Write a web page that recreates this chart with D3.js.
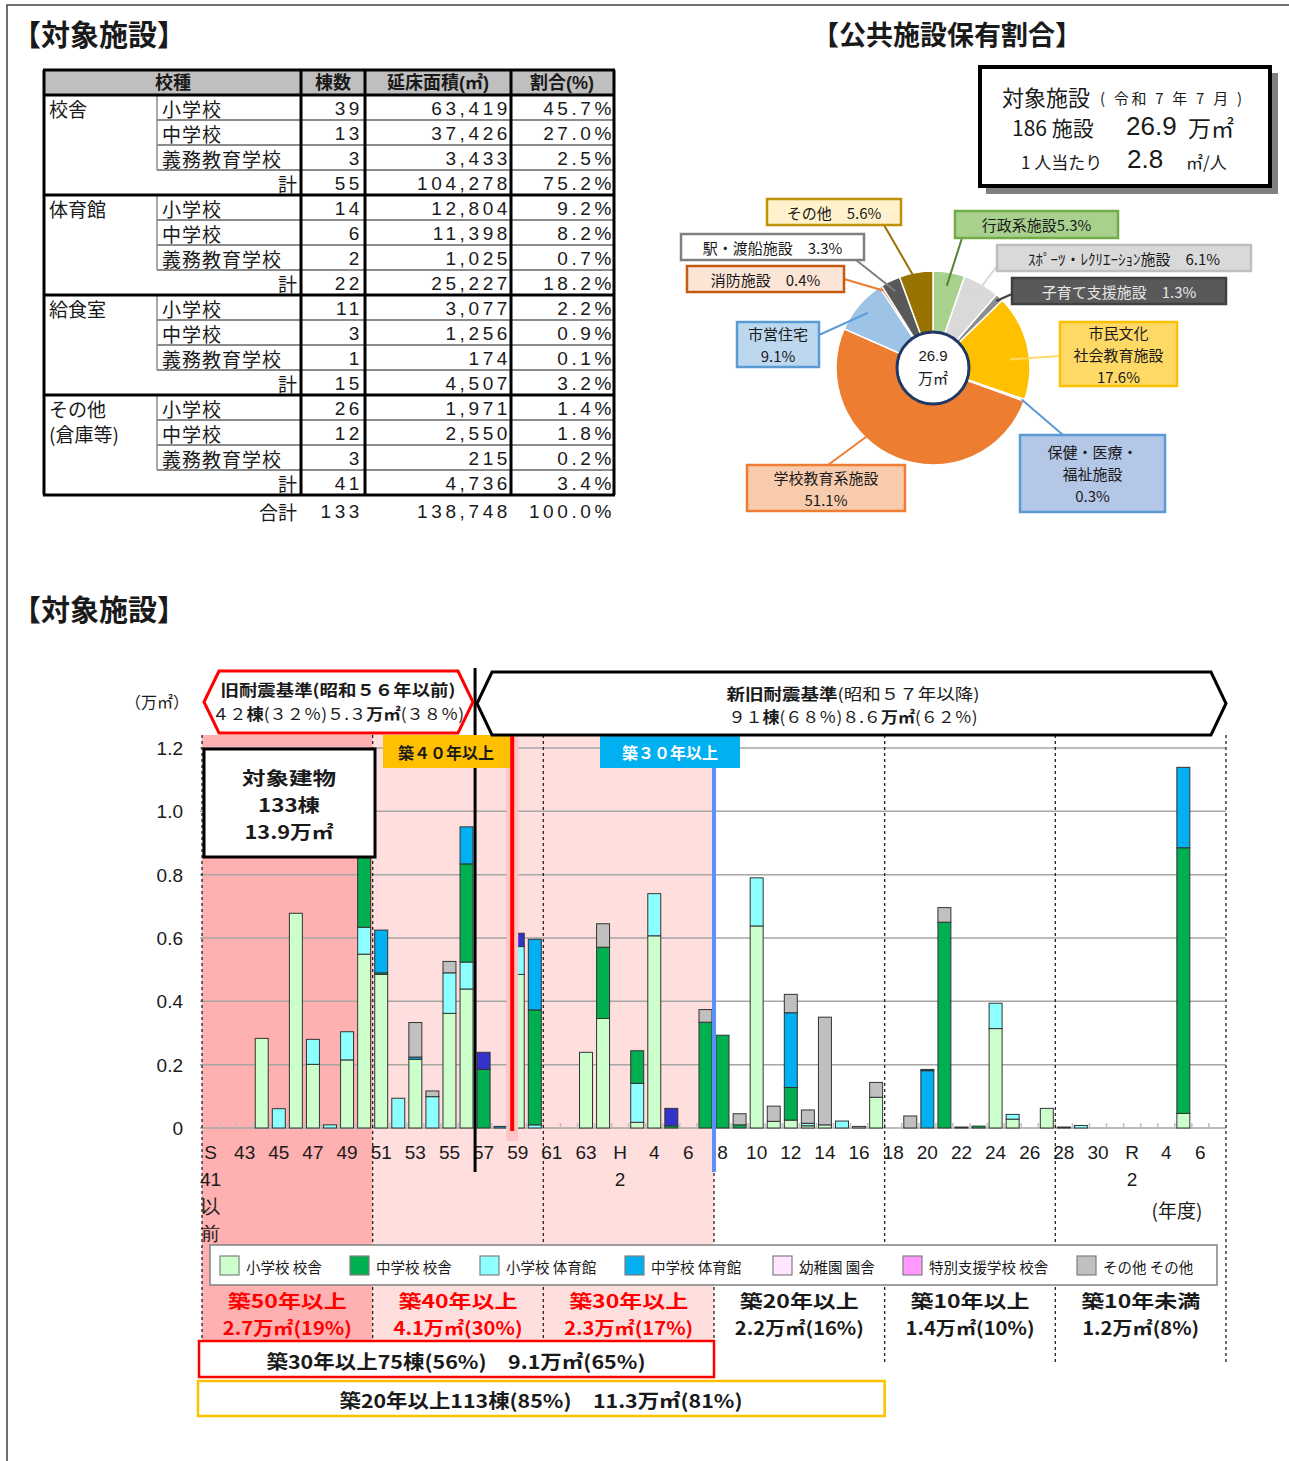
<!DOCTYPE html>
<html>
<head>
<meta charset="utf-8">
<script src="https://cdn.jsdelivr.net/npm/d3@7"></script>
<style>
  body { margin: 0; background: #fff; }
  svg { display: block; font-family: "Liberation Sans", "Noto Sans CJK JP", sans-serif; }
  text { dominant-baseline: central; fill: #1a1a1a; }
</style>
</head>
<body>
<svg id="page" width="1289" height="1461"></svg>
<script>
// ---------- table data ----------
const tableGroups = [['校舎'], ['体育館'], ['給食室'], ['その他', '(倉庫等)']];
const tableTypes = ['小学校', '中学校', '義務教育学校', '計'];
const tableCounts = [[39, 13, 3, 55], [14, 6, 2, 22], [11, 3, 1, 15], [26, 12, 3, 41]];
const tableAreas = [[63419, 37426, 3433, 104278], [12804, 11398, 1025, 25227], [3077, 1256, 174, 4507], [1971, 2550, 215, 4736]];
const tableShares = [[45.7, 27.0, 2.5, 75.2], [9.2, 8.2, 0.7, 18.2], [2.2, 0.9, 0.1, 3.2], [1.4, 1.8, 0.2, 3.4]];
const tableTotal = [133, 138748, 100.0];

// ---------- pie data ----------
const pieNames = ['行政系施設', 'ｽﾎﾟｰﾂ・ﾚｸﾘｴｰｼｮﾝ施設', '子育て支援施設', '市民文化\n社会教育施設', '保健・医療・\n福祉施設',
  '学校教育系施設', '市営住宅', '消防施設', '駅・渡船施設', 'その他'];
const pieShares = [5.3, 6.1, 1.3, 17.6, 0.3, 51.1, 9.1, 0.4, 3.3, 5.6];
const pieColors = ['#A9D18E', '#D9D9D9', '#8C8C8C', '#FFC000', '#9DC3E6', '#ED7D31', '#9DC3E6', '#C55A11', '#595959', '#997300'];

// ---------- bar chart data (万㎡) ----------
const years = [
  'S41以前', 'S42', 'S43', 'S44', 'S45', 'S46', 'S47', 'S48', 'S49', 'S50',
  'S51', 'S52', 'S53', 'S54', 'S55', 'S56', 'S57', 'S58', 'S59', 'S60',
  'S61', 'S62', 'S63', 'H1', 'H2', 'H3', 'H4', 'H5', 'H6', 'H7',
  'H8', 'H9', 'H10', 'H11', 'H12', 'H13', 'H14', 'H15', 'H16', 'H17',
  'H18', 'H19', 'H20', 'H21', 'H22', 'H23', 'H24', 'H25', 'H26', 'H27',
  'H28', 'H29', 'H30', 'R1', 'R2', 'R3', 'R4', 'R5', 'R6', 'R7'];
const xTickLabels = ['S\n41\n以\n前', '43', '45', '47', '49', '51', '53', '55', '57', '59', '61', '63', 'H\n2', '4', '6',
  '8', '10', '12', '14', '16', '18', '20', '22', '24', '26', '28', '30', 'R\n2', '4', '6'];
const yTicks = [0, 0.2, 0.4, 0.6, 0.8, 1.0, 1.2];

const elemBldg = [
  0, 0, 0, 0.283, 0, 0.678, 0.201, 0, 0.215, 0.549,
  0.485, 0, 0.217, 0, 0.362, 0.439, 0, 0, 0.485, 0,
  0, 0, 0.239, 0.346, 0, 0.018, 0.607, 0, 0, 0,
  0, 0, 0.638, 0.021, 0.025, 0.007, 0.010, 0, 0, 0.097,
  0, 0, 0, 0, 0, 0, 0.314, 0.028, 0, 0.062,
  0, 0, 0, 0, 0, 0, 0, 0.046, 0, 0];
const elemGym = [
  0, 0, 0, 0, 0.061, 0, 0.079, 0.010, 0.089, 0.085,
  0, 0.094, 0, 0.099, 0.128, 0.085, 0, 0, 0.088, 0.010,
  0, 0, 0, 0, 0, 0.123, 0.133, 0, 0, 0,
  0, 0, 0.152, 0, 0, 0.008, 0, 0.022, 0, 0,
  0, 0, 0, 0, 0, 0, 0.080, 0.015, 0, 0,
  0, 0.008, 0, 0, 0, 0, 0, 0, 0, 0];
const juniorBldg = [
  0, 0, 0, 0, 0, 0, 0, 0, 0, 0.446,
  0.005, 0, 0, 0, 0, 0.310, 0.185, 0, 0, 0.363,
  0, 0, 0, 0.225, 0, 0.103, 0, 0.007, 0, 0.334,
  0.293, 0.010, 0, 0, 0.103, 0, 0, 0, 0, 0,
  0, 0, 0, 0.650, 0.003, 0.006, 0, 0, 0, 0,
  0, 0, 0, 0, 0, 0, 0, 0.839, 0, 0];
const juniorGym = [
  0, 0, 0, 0, 0, 0, 0, 0, 0, 0,
  0.135, 0, 0.007, 0, 0, 0.117, 0, 0.005, 0, 0.223,
  0, 0, 0, 0, 0, 0, 0, 0, 0, 0,
  0, 0, 0, 0, 0.236, 0, 0, 0, 0, 0,
  0, 0, 0.181, 0, 0, 0, 0, 0, 0, 0,
  0, 0, 0, 0, 0, 0, 0, 0.254, 0, 0];
const kinderBldg = [
  0, 0, 0, 0, 0, 0, 0, 0, 0, 0,
  0, 0, 0, 0, 0, 0, 0, 0, 0, 0,
  0, 0, 0, 0, 0, 0, 0, 0, 0, 0,
  0, 0, 0, 0, 0, 0, 0, 0, 0, 0,
  0, 0, 0, 0, 0, 0, 0, 0, 0, 0,
  0, 0, 0, 0, 0, 0, 0, 0, 0, 0];
const specialBldg = [
  0, 0, 0, 0, 0, 0, 0, 0, 0, 0,
  0, 0, 0, 0, 0, 0, 0, 0, 0, 0,
  0, 0, 0, 0, 0, 0, 0, 0, 0, 0,
  0, 0, 0, 0, 0, 0, 0, 0, 0, 0,
  0, 0, 0, 0, 0, 0, 0, 0, 0, 0,
  0, 0, 0, 0, 0, 0, 0, 0, 0, 0];
const otherBldg = [
  0, 0, 0, 0, 0, 0, 0, 0, 0, 0,
  0, 0, 0.109, 0.018, 0.036, 0, 0, 0, 0, 0,
  0, 0, 0, 0.074, 0, 0, 0, 0, 0, 0.040,
  0, 0.035, 0, 0.048, 0.058, 0.042, 0.340, 0, 0.005, 0.047,
  0, 0.038, 0, 0.046, 0, 0, 0, 0, 0, 0,
  0.003, 0, 0, 0, 0, 0, 0, 0, 0, 0];
const compulsoryBldg = [
  0, 0, 0, 0, 0, 0, 0, 0, 0, 0,
  0, 0, 0, 0, 0, 0, 0.054, 0, 0.042, 0,
  0, 0, 0, 0, 0, 0, 0, 0.055, 0, 0,
  0, 0, 0, 0, 0, 0, 0, 0, 0, 0,
  0, 0, 0.004, 0, 0, 0, 0, 0, 0, 0,
  0, 0, 0, 0, 0, 0, 0, 0, 0, 0];

const seriesKeys = ['小学校 校舎', '小学校 体育館', '中学校 校舎', '中学校 体育館', '幼稚園 園舎', '特別支援学校 校舎', 'その他 その他', '義務教育学校'];
const seriesValues = [elemBldg, elemGym, juniorBldg, juniorGym, kinderBldg, specialBldg, otherBldg, compulsoryBldg];
const seriesColors = ['#CCFFCC', '#8CFFFF', '#00B050', '#00B0F0', '#FFE5FF', '#FF99FF', '#C0C0C0', '#3333CC'];
const legendKeys = ['小学校 校舎', '中学校 校舎', '小学校 体育館', '中学校 体育館', '幼稚園 園舎', '特別支援学校 校舎', 'その他 その他'];

const ageBandStart = ['S41以前', 'S51', 'S61', 'H8', 'H18', 'H28'];
const ageBandNames = ['築50年以上', '築40年以上', '築30年以上', '築20年以上', '築10年以上', '築10年未満'];
const ageBandArea = [2.7, 4.1, 2.3, 2.2, 1.4, 1.2];
const ageBandPct = [19, 30, 17, 16, 10, 8];

const svg = d3.select('#page');
const CJK = '"Noto Sans CJK JP", sans-serif';

// page frame
svg.append('path').attr('d', 'M7,1461V5H1289').attr('fill', 'none').attr('stroke', '#404040').attr('stroke-width', 1.5);

// titles
svg.append('text').attr('x', 12).attr('y', 33).style('font-family', CJK).style('font-weight', 700).style('font-size', '29px').text('【対象施設】');
svg.append('text').attr('x', 12).attr('y', 608).style('font-family', CJK).style('font-weight', 700).style('font-size', '29px').text('【対象施設】');
svg.append('text').attr('x', 812).attr('y', 33).style('font-family', CJK).style('font-weight', 700).style('font-size', '27px').text('【公共施設保有割合】');

// ================= table =================
const tbl = svg.append('g');
const tTop = 70, rowH = 25;
tbl.append('rect').attr('x', 44).attr('y', tTop).attr('width', 570).attr('height', rowH).attr('fill', '#BFBFBF');
[['校種', 173], ['棟数', 333], ['延床面積(㎡)', 438], ['割合(%)', 562]].forEach(h => {
  tbl.append('text').attr('x', h[1]).attr('y', tTop + 13).attr('text-anchor', 'middle')
    .style('font-weight', 700).style('font-size', '18px').text(h[0]);
});
const fmtArea = d3.format(',');
const fmtShare = d => d3.format('.1f')(d) + '%';
const numStyle = sel => sel.style('font-size', '19px').style('letter-spacing', '3.6px').attr('text-anchor', 'end');

tableGroups.forEach((grp, g) => {
  const gTop = tTop + rowH + g * 4 * rowH;
  grp.forEach((s, k) => tbl.append('text').attr('x', 49).attr('y', gTop + 13 + k * rowH)
    .style('font-family', CJK).style('font-size', '19px').text(s));
  tableTypes.forEach((t, r) => {
    const yc = gTop + r * rowH + 13;
    if (r < 3) {
      tbl.append('text').attr('x', 162).attr('y', yc).style('font-family', CJK).style('font-size', '19px')
        .style('letter-spacing', '1px').text(t);
      tbl.append('line').attr('x1', 157).attr('x2', 614).attr('y1', gTop + (r + 1) * rowH).attr('y2', gTop + (r + 1) * rowH)
        .attr('stroke', '#8C8C8C').attr('stroke-width', 2);
    } else {
      tbl.append('text').attr('x', 297).attr('y', yc).attr('text-anchor', 'end').style('font-family', CJK).style('font-size', '19px').text(t);
    }
    tbl.append('text').attr('x', 363).attr('y', yc).call(numStyle).text(tableCounts[g][r]);
    tbl.append('text').attr('x', 511).attr('y', yc).call(numStyle).text(fmtArea(tableAreas[g][r]));
    tbl.append('text').attr('x', 615).attr('y', yc).call(numStyle).text(fmtShare(tableShares[g][r]));
  });
  tbl.append('line').attr('x1', 157).attr('x2', 157).attr('y1', gTop).attr('y2', gTop + 3 * rowH)
    .attr('stroke', '#8C8C8C').attr('stroke-width', 1.5);
});
[tTop, tTop + rowH, 195, 295, 395, 495].forEach(y => tbl.append('line').attr('x1', 43).attr('x2', 615)
  .attr('y1', y).attr('y2', y).attr('stroke', '#000').attr('stroke-width', 3));
[44, 301, 365, 511, 614].forEach(xv => tbl.append('line').attr('x1', xv).attr('x2', xv)
  .attr('y1', tTop).attr('y2', 495).attr('stroke', '#000').attr('stroke-width', 3));
const totY = 511;
tbl.append('text').attr('x', 297).attr('y', totY).attr('text-anchor', 'end').style('font-family', CJK).style('font-size', '19px').text('合計');
tbl.append('text').attr('x', 363).attr('y', totY).call(numStyle).text(tableTotal[0]);
tbl.append('text').attr('x', 511).attr('y', totY).call(numStyle).text(fmtArea(tableTotal[1]));
tbl.append('text').attr('x', 615).attr('y', totY).call(numStyle).text(fmtShare(tableTotal[2]));

// ================= info box =================
svg.append('rect').attr('x', 986).attr('y', 73).attr('width', 292).attr('height', 121).attr('fill', '#7F7F7F');
svg.append('rect').attr('x', 980).attr('y', 67).attr('width', 290).attr('height', 119).attr('fill', '#fff').attr('stroke', '#000').attr('stroke-width', 4);
const info = svg.append('g').style('font-family', CJK);
info.append('text').attr('x', 1002).attr('y', 96).style('font-size', '22px').text('対象施設');
info.append('text').attr('x', 1100).attr('y', 97).style('font-size', '15px').attr('textLength', 142).text('( 令和 7 年 7 月 )');
info.append('text').attr('x', 1012).attr('y', 127).style('font-size', '21px').text('186 施設');
info.append('text').attr('x', 1126).attr('y', 126).style('font-size', '26px').style('font-family', '"Liberation Sans", sans-serif').text('26.9');
info.append('text').attr('x', 1188).attr('y', 127).style('font-size', '23px').text('万㎡');
info.append('text').attr('x', 1021).attr('y', 161).style('font-size', '17px').text('1 人当たり');
info.append('text').attr('x', 1127).attr('y', 159).style('font-size', '26px').style('font-family', '"Liberation Sans", sans-serif').text('2.8');
info.append('text').attr('x', 1186).attr('y', 161).style('font-size', '17px').text('㎡/人');

// ================= pie =================
const pieCx = 933, pieCy = 368, pieR = 97;
const pieArcs = d3.pie().sort(null).value(d => d)(pieShares);
const arc = d3.arc().innerRadius(0).outerRadius(pieR);
const gPie = svg.append('g').attr('transform', `translate(${pieCx},${pieCy})`);
gPie.selectAll('path').data(pieArcs).join('path').attr('d', arc)
  .attr('fill', (d, i) => pieColors[i]).attr('stroke', '#fff').attr('stroke-width', 1.5);

const pieBoxes = [
  { x: 955, y: 211, w: 163, h: 27, fill: '#A9D18E', stroke: '#70AD47', ink: '#1a1a1a', from: [962, 238], t: 0.5, k: 0.86, line: '#548235', mode: 'tight' },
  { x: 997, y: 245, w: 254, h: 26, fill: '#D9D9D9', stroke: '#BFBFBF', ink: '#1a1a1a', from: [1000, 262], t: 0.5, k: 0.87, line: '#D9D9D9', mode: 'inline' },
  { x: 1012, y: 278, w: 214, h: 26, fill: '#595959', stroke: '#404040', ink: '#E6E6E6', from: [1012, 294], t: 0.5, k: 0.95, line: '#404040', mode: 'inline' },
  { x: 1060, y: 322, w: 117, h: 64, fill: '#FFD966', stroke: '#FFC000', ink: '#1a1a1a', from: [1060, 356], t: 0.6, k: 0.8, line: '#FFD966', mode: 'stack' },
  { x: 1020, y: 435, w: 145, h: 77, fill: '#B4C7E7', stroke: '#5B9BD5', ink: '#1a1a1a', from: [1063, 435], t: 0.5, k: 0.97, line: '#5B9BD5', mode: 'stack' },
  { x: 747, y: 465, w: 158, h: 46, fill: '#F8CBAD', stroke: '#ED7D31', ink: '#1a1a1a', from: [828, 465], t: 0.62, k: 0.97, line: '#ED7D31', mode: 'stack' },
  { x: 737, y: 322, w: 82, h: 45, fill: '#BDD7EE', stroke: '#5B9BD5', ink: '#1a1a1a', from: [819, 335], t: 0.5, k: 0.88, line: '#5B9BD5', mode: 'stack' },
  { x: 687, y: 266, w: 157, h: 26, fill: '#FBE5D6', stroke: '#C55A11', ink: '#1a1a1a', from: [844, 279], t: 0.5, k: 0.95, line: '#ED7D31', mode: 'inline' },
  { x: 681, y: 234, w: 183, h: 26, fill: '#fff', stroke: '#7F7F7F', ink: '#1a1a1a', from: [856, 260], t: 0.5, k: 0.88, line: '#7F7F7F', mode: 'inline' },
  { x: 767, y: 199, w: 134, h: 26, fill: '#FFF2CC', stroke: '#BF9000', ink: '#1a1a1a', from: [884, 225], t: 0.5, k: 0.88, line: '#997300', mode: 'inline' }
];
// leader lines
pieBoxes.forEach((b, i) => {
  const a = pieArcs[i];
  const ang = a.startAngle + b.t * (a.endAngle - a.startAngle);
  const ex = pieCx + Math.sin(ang) * pieR * b.k, ey = pieCy - Math.cos(ang) * pieR * b.k;
  svg.append('line').attr('x1', b.from[0]).attr('y1', b.from[1]).attr('x2', ex).attr('y2', ey)
    .attr('stroke', b.line).attr('stroke-width', 2);
});
// center hole
svg.append('circle').attr('cx', pieCx).attr('cy', pieCy).attr('r', 36).attr('fill', '#fff').attr('stroke', '#1F3864').attr('stroke-width', 3);
svg.append('text').attr('x', pieCx).attr('y', pieCy - 13).attr('text-anchor', 'middle').style('font-size', '15px').text('26.9');
svg.append('text').attr('x', pieCx).attr('y', pieCy + 9).attr('text-anchor', 'middle').style('font-family', CJK).style('font-size', '15px').text('万㎡');
// label boxes
pieBoxes.forEach((b, i) => {
  svg.append('rect').attr('x', b.x).attr('y', b.y).attr('width', b.w).attr('height', b.h)
    .attr('fill', b.fill).attr('stroke', b.stroke).attr('stroke-width', 2.5);
  const pct = d3.format('.1f')(pieShares[i]) + '%';
  let lines;
  if (b.mode === 'tight') lines = [pieNames[i] + pct];
  else if (b.mode === 'inline') lines = [pieNames[i] + '　' + pct];
  else lines = pieNames[i].split('\n').concat([pct]);
  const lh = 22, y0 = b.y + b.h / 2 - (lines.length - 1) * lh / 2;
  lines.forEach((s, k) => svg.append('text').attr('x', b.x + b.w / 2).attr('y', y0 + k * lh)
    .attr('text-anchor', 'middle').style('font-family', CJK).style('font-size', '15px').style('fill', b.ink).text(s));
});

// ================= bar chart =================
const plotTop = 735, zoneBottom = 1340;
const x = d3.scaleBand().domain(years).range([202, 1226]).paddingInner(0.24).paddingOuter(0.12);
const y = d3.scaleLinear().domain([0, 1.2]).range([1128, 748]);
const edge = yr => x(yr) - x.step() * x.paddingInner() / 2;
const rightEdge = 1226;

// shaded age zones
const chart = svg.append('g');
chart.append('rect').attr('x', edge('S41以前')).attr('y', plotTop).attr('width', edge('S51') - edge('S41以前'))
  .attr('height', zoneBottom - plotTop).attr('fill', '#FFB0B0');
chart.append('rect').attr('x', edge('S51')).attr('y', plotTop).attr('width', edge('H8') - edge('S51'))
  .attr('height', zoneBottom - plotTop).attr('fill', '#FFDEDE');

// gridlines
chart.selectAll('.grid').data(yTicks).join('line').attr('class', 'grid')
  .attr('x1', 200).attr('x2', rightEdge).attr('y1', d => y(d)).attr('y2', d => y(d))
  .attr('stroke', '#A6A6A6').attr('stroke-width', 1.5);
// small boundary ticks on baseline
chart.selectAll('.btick').data(years.slice(1)).join('line').attr('class', 'btick')
  .attr('x1', d => edge(d)).attr('x2', d => edge(d)).attr('y1', y(0)).attr('y2', y(0) - 5)
  .attr('stroke', '#BFBFBF').attr('stroke-width', 1.5);

// dashed zone dividers
const dividers = ageBandStart.map(edge).concat([rightEdge]);
chart.selectAll('.div').data(dividers).join('line').attr('class', 'div')
  .attr('x1', d => d).attr('x2', d => d).attr('y1', plotTop).attr('y2', 1365)
  .attr('stroke', '#222').attr('stroke-width', 1.3).attr('stroke-dasharray', '3,3');

// stacked bars
const rows = years.map((yr, i) => {
  const r = { year: yr };
  seriesKeys.forEach((k, j) => { r[k] = seriesValues[j][i]; });
  return r;
});
const stacked = d3.stack().keys(seriesKeys)(rows);
const colorOf = d3.scaleOrdinal().domain(seriesKeys).range(seriesColors);
chart.selectAll('.layer').data(stacked).join('g').attr('class', 'layer')
  .attr('fill', d => colorOf(d.key))
  .selectAll('rect').data(d => d.filter(p => p[1] - p[0] > 0)).join('rect')
  .attr('x', d => x(d.data.year)).attr('width', x.bandwidth())
  .attr('y', d => y(d[1])).attr('height', d => Math.max(1, y(d[0]) - y(d[1])))
  .attr('stroke', '#333').attr('stroke-width', 1);

// axes
const yAxis = chart.append('g').attr('transform', 'translate(202,0)')
  .call(d3.axisLeft(y).tickValues(yTicks).tickSize(0).tickPadding(19).tickFormat(d => d === 0 ? '0' : d3.format('.1f')(d)));
yAxis.select('.domain').remove();
yAxis.selectAll('text').attr('dy', null).style('font-size', '19px').style('font-family', '"Liberation Sans", sans-serif').attr('fill', '#1a1a1a');

const tickYears = years.filter((d, i) => i % 2 === 0);
const xAxis = chart.append('g').attr('transform', `translate(0,${y(0)})`)
  .call(d3.axisBottom(x).tickValues(tickYears).tickSize(0).tickPadding(0).tickFormat(d => ''));
xAxis.select('.domain').remove();
xAxis.selectAll('.tick text').each(function (d) {
  const lbl = xTickLabels[tickYears.indexOf(d)];
  const t = d3.select(this).attr('dy', null).attr('y', 24).attr('fill', '#1a1a1a').style('font-size', '19px');
  lbl.split('\n').forEach((s, k) => t.append('tspan').attr('x', 0).attr('y', 24 + k * 27).text(s));
});

// era / age markers
chart.append('line').attr('x1', edge('S59') + 3).attr('x2', edge('S59') + 3).attr('y1', plotTop).attr('y2', 1141)
  .attr('stroke', '#FFC4C4').attr('stroke-width', 12);
chart.append('line').attr('x1', edge('S59') + 3).attr('x2', edge('S59') + 3).attr('y1', plotTop).attr('y2', 1131)
  .attr('stroke', '#FF0000').attr('stroke-width', 4);
chart.append('line').attr('x1', edge('H8')).attr('x2', edge('H8')).attr('y1', plotTop).attr('y2', 1172)
  .attr('stroke', '#5B8FF9').attr('stroke-width', 4);
chart.append('line').attr('x1', edge('S57')).attr('x2', edge('S57')).attr('y1', 668).attr('y2', 1172)
  .attr('stroke', '#000').attr('stroke-width', 3);

chart.append('rect').attr('x', 383).attr('y', plotTop).attr('width', 127).attr('height', 33).attr('fill', '#FFC000');
chart.append('text').attr('x', 446).attr('y', 752).attr('text-anchor', 'middle').style('font-family', CJK)
  .style('font-weight', 700).style('font-size', '16px').text('築４０年以上');
chart.append('rect').attr('x', 600).attr('y', plotTop).attr('width', 140).attr('height', 33).attr('fill', '#00B0F0');
chart.append('text').attr('x', 670).attr('y', 752).attr('text-anchor', 'middle').style('font-family', CJK)
  .style('font-weight', 700).style('font-size', '16px').style('fill', '#fff').text('築３０年以上');

// total buildings box
chart.append('rect').attr('x', 204).attr('y', 749).attr('width', 171).attr('height', 108).attr('fill', '#fff')
  .attr('stroke', '#000').attr('stroke-width', 3);
[['対象建物', 777, 94], ['133棟', 804, 62], ['13.9万㎡', 831, 89]].forEach(s => chart.append('text').attr('x', 289).attr('y', s[1])
  .attr('text-anchor', 'middle').style('font-family', CJK).style('font-weight', 700).style('font-size', '18px')
  .attr('textLength', s[2]).attr('lengthAdjust', 'spacingAndGlyphs').text(s[0]));

// header banners
svg.append('text').attr('x', 157).attr('y', 701).attr('text-anchor', 'middle').style('font-family', CJK).style('font-size', '16px').text('（万㎡）');
const hexPath = (x0, x1, y0, y1, c) => `M${x0},${(y0 + y1) / 2}L${x0 + c},${y0}H${x1 - c}L${x1},${(y0 + y1) / 2}L${x1 - c},${y1}H${x0 + c}Z`;
svg.append('path').attr('d', hexPath(204, 473, 671, 733, 15)).attr('fill', '#fff').attr('stroke', '#FF0000').attr('stroke-width', 3);
svg.append('path').attr('d', hexPath(477, 1226, 672, 735, 15)).attr('fill', '#fff').attr('stroke', '#000').attr('stroke-width', 3);
const banner = (cx, cy, w, parts) => {
  const t = svg.append('text').attr('x', cx).attr('y', cy).attr('text-anchor', 'middle').style('font-family', CJK)
    .style('font-size', '16px').attr('textLength', w).attr('lengthAdjust', 'spacingAndGlyphs');
  parts.forEach(p => t.append('tspan').style('font-weight', p[1] ? 700 : 400).text(p[0]));
};
banner(338, 689, 235, [['旧耐震基準(昭和５６年以前)', 1]]);
banner(338, 713, 252, [['４２', 0], ['棟', 1], ['(３２％)５.３', 0], ['万㎡', 1], ['(３８％)', 0]]);
banner(853, 693, 253, [['新旧耐震基準', 1], ['(昭和５７年以降)', 0]]);
banner(853, 716, 249, [['９１', 0], ['棟', 1], ['(６８％)８.６', 0], ['万㎡', 1], ['(６２％)', 0]]);

svg.append('text').attr('x', 1177).attr('y', 1209).attr('text-anchor', 'middle').style('font-family', CJK).style('font-size', '19px').text('(年度)');

// legend
const legendX = [220, 350, 480, 625, 773, 903, 1077];
svg.append('rect').attr('x', 210).attr('y', 1245).attr('width', 1007).attr('height', 40).attr('fill', '#fff')
  .attr('stroke', '#808080').attr('stroke-width', 1.5);
legendKeys.forEach((k, i) => {
  svg.append('rect').attr('x', legendX[i]).attr('y', 1256).attr('width', 19).attr('height', 19)
    .attr('fill', colorOf(k)).attr('stroke', '#7F7F7F').attr('stroke-width', 1.2);
  svg.append('text').attr('x', legendX[i] + 26).attr('y', 1266).style('font-family', CJK).style('font-size', '14.5px').text(k);
});

// age band summaries
ageBandStart.forEach((s, i) => {
  const x0 = edge(s), x1 = i < ageBandStart.length - 1 ? edge(ageBandStart[i + 1]) : rightEdge;
  const cx = (x0 + x1) / 2, col = i < 3 ? '#FF0000' : '#1a1a1a';
  svg.append('text').attr('x', cx).attr('y', 1300).attr('text-anchor', 'middle').style('font-family', CJK)
    .style('font-weight', 700).style('font-size', '18px').style('fill', col)
    .attr('textLength', 119).attr('lengthAdjust', 'spacingAndGlyphs').text(ageBandNames[i]);
  svg.append('text').attr('x', cx).attr('y', 1327).attr('text-anchor', 'middle').style('font-family', CJK)
    .style('font-weight', 700).style('font-size', '18px').style('fill', col)
    .attr('textLength', ageBandPct[i] < 10 ? 117 : 129).attr('lengthAdjust', 'spacingAndGlyphs')
    .text(`${ageBandArea[i]}万㎡(${ageBandPct[i]}%)`);
});

svg.append('rect').attr('x', edge('S41以前') - 3).attr('y', 1341).attr('width', edge('H8') - edge('S41以前') + 3).attr('height', 36)
  .attr('fill', '#fff').attr('stroke', '#FF0000').attr('stroke-width', 2.5);
svg.append('text').attr('x', 456).attr('y', 1360).attr('text-anchor', 'middle').style('font-family', CJK)
  .style('font-weight', 700).style('font-size', '19px').attr('textLength', 379).attr('lengthAdjust', 'spacingAndGlyphs')
  .text('築30年以上75棟(56%)　9.1万㎡(65%)');
svg.append('rect').attr('x', edge('S41以前') - 4).attr('y', 1381).attr('width', edge('H18') - edge('S41以前') + 4).attr('height', 35)
  .attr('fill', '#fff').attr('stroke', '#FFC000').attr('stroke-width', 2.5);
svg.append('text').attr('x', 541).attr('y', 1399).attr('text-anchor', 'middle').style('font-family', CJK)
  .style('font-weight', 700).style('font-size', '19px').attr('textLength', 403).attr('lengthAdjust', 'spacingAndGlyphs')
  .text('築20年以上113棟(85%)　11.3万㎡(81%)');
</script>
</body>
</html>
